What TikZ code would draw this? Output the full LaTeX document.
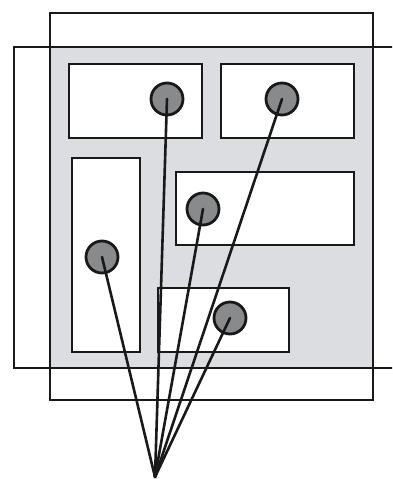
\documentclass[tikz,border=0pt]{standalone}
\begin{document}
\begin{tikzpicture}[x=1pt,y=-1pt,
  ink/.style={draw=black!90, line width=2.8pt},
  frame/.style={draw=black!90, line width=2.4pt},
  box/.style={ink, fill=white},
  dot/.style={circle, draw=black!90, line width=2.8pt, fill=dotgray, minimum size=32pt, inner sep=0pt},
  wire/.style={draw=black!90, line width=2.6pt, line cap=round}]
\definecolor{panelgray}{RGB}{220,221,224}
\definecolor{dotgray}{RGB}{137,138,140}
\clip (0,0) rectangle (392,479);
\fill[white] (0,0) rectangle (392,479);
% shaded overlap
\fill[panelgray] (50,47) rectangle (373,368);
% two frames
\draw[frame] (50,13) rectangle (373,400);
\draw[frame] (14,47) rectangle (400,368);
% boxes
\draw[box] (69,64) rectangle (202,138);
\draw[box] (221,64) rectangle (354,138);
\draw[box] (72,158) rectangle (140,352);
\draw[box] (176,172) rectangle (354,245);
\draw[box] (158,288) rectangle (289,352);
% dots
\node[dot] (d1) at (167,99) {};
\node[dot] (d2) at (282,99) {};
\node[dot] (d3) at (203,209) {};
\node[dot] (d4) at (102,257) {};
\node[dot] (d5) at (230,318) {};
\coordinate (apex) at (155,477);
% wires
\foreach \d in {d1,d2,d3,d4,d5}
  \draw[wire] (\d.center) -- (apex);
\end{tikzpicture}
\end{document}
